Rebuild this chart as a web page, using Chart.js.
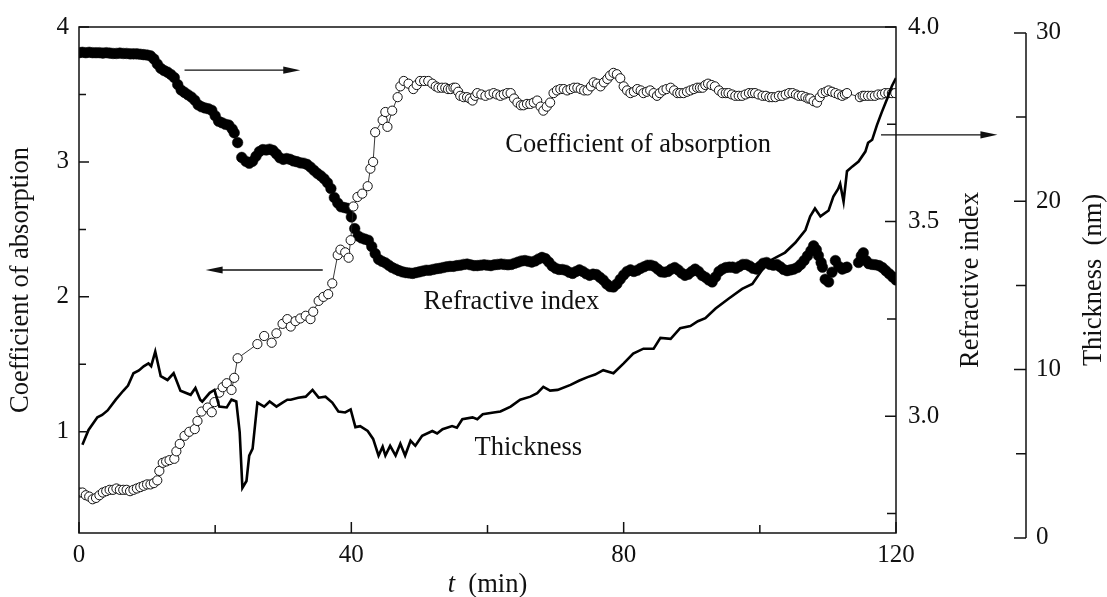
<!DOCTYPE html>
<html><head><meta charset="utf-8">
<script src="https://cdn.jsdelivr.net/npm/chart.js@4.4.1/dist/chart.umd.min.js"></script>
<style>html,body{margin:0;padding:0;background:#fff;}canvas{display:block;}</style>
</head><body>
<canvas id="c" width="1107" height="597"></canvas>
<script>
// ---- data (t in min) ----
const absT = [
 0,0.5,1,1.5,2,2.5,3,3.5,4,4.5,
 5,5.5,6,6.5,7,7.5,8,8.5,9,9.5,
 10,10.5,11,11.5,11.8,12.3,12.8,13.3,14,14.3,
 14.8,15.5,16.2,17,17.4,18,18.9,19.5,19.9,20.6,
 21.1,21.7,22.4,22.8,23.3,26.2,27.2,28.3,29,29.9,
 30.6,31.1,31.8,32.5,33.3,34,34.4,35.2,35.9,36.6,
 37.2,38,38.4,39.1,39.6,39.9,40.3,40.9,41.6,42.4,
 42.8,43.2,43.5,44.6,45,45.3,46,46.8,47.2,47.7,
 48.4,49.1,49.6,50.1,50.7,51.3,51.9,52.4,52.8,53.3,
 53.8,54.2,54.6,55,55.3,55.7,56,56.5,57,57.4,
 57.8,58.2,58.5,59.1,59.7,60.3,60.9,61.4,61.9,62.4,
 62.9,63.4,63.9,64.4,64.9,65.3,65.8,66.3,66.8,67.3,
 67.8,68.2,68.7,69.2,69.7,70.2,70.7,71.2,71.7,72.2,
 72.7,73.2,73.7,74.2,74.7,75.2,75.6,76.1,76.6,77.1,
 77.6,78,78.5,79,79.5,80,80.5,81,81.5,82,
 82.5,82.9,83.4,83.9,84.4,84.9,85.3,85.8,86.3,86.9,
 87.4,87.9,88.3,88.8,89.3,89.8,90.3,90.8,91.2,91.6,
 92,92.4,92.9,93.4,94,94.5,95,95.4,95.9,96.4,
 96.9,97.4,97.9,98.4,98.9,99.3,99.8,100.4,100.9,101.4,
 101.8,102.3,102.8,103.3,103.8,104.3,104.8,105.3,105.7,106.2,
 106.7,107.1,107.4,107.9,108.4,108.8,109.2,109.7,110.1,110.6,
 111.1,111.6,112.1,112.5,112.8,114.7,115.1,115.4,115.9,116.4,
 116.9,117.4,117.9,118.4,118.9,119.4,119.9
];
const absV = [
 0.55,0.55,0.53,0.52,0.50,0.51,0.53,0.55,0.56,0.57,
 0.57,0.58,0.57,0.57,0.57,0.56,0.57,0.58,0.59,0.60,
 0.61,0.61,0.62,0.64,0.71,0.77,0.78,0.79,0.80,0.855,
 0.91,0.97,1.00,1.02,1.08,1.15,1.18,1.145,1.22,1.29,
 1.33,1.36,1.31,1.40,1.545,1.65,1.71,1.66,1.73,1.80,
 1.835,1.78,1.82,1.84,1.86,1.835,1.89,1.97,2.00,2.02,
 2.10,2.31,2.35,2.33,2.29,2.42,2.67,2.74,2.765,2.82,
 2.95,3.00,3.22,3.31,3.37,3.26,3.38,3.48,3.56,3.60,
 3.58,3.54,3.57,3.60,3.60,3.60,3.58,3.56,3.55,3.55,
 3.55,3.54,3.54,3.55,3.55,3.52,3.49,3.48,3.48,3.47,
 3.455,3.49,3.51,3.50,3.49,3.50,3.51,3.50,3.49,3.50,
 3.51,3.51,3.47,3.44,3.42,3.42,3.43,3.43,3.44,3.455,
 3.41,3.38,3.41,3.44,3.51,3.53,3.54,3.54,3.53,3.54,
 3.55,3.55,3.54,3.53,3.53,3.56,3.59,3.58,3.56,3.59,
 3.615,3.64,3.66,3.65,3.62,3.56,3.53,3.51,3.52,3.54,
 3.53,3.51,3.52,3.53,3.51,3.49,3.51,3.53,3.54,3.55,
 3.53,3.51,3.51,3.51,3.52,3.53,3.54,3.55,3.55,3.55,
 3.57,3.58,3.57,3.56,3.53,3.51,3.51,3.51,3.50,3.49,
 3.49,3.49,3.50,3.51,3.51,3.51,3.50,3.49,3.49,3.48,
 3.48,3.48,3.49,3.49,3.50,3.51,3.51,3.50,3.49,3.49,
 3.48,3.47,3.47,3.45,3.44,3.48,3.51,3.52,3.53,3.52,
 3.51,3.50,3.49,3.50,3.51,3.48,3.49,3.49,3.49,3.49,
 3.49,3.50,3.50,3.51,3.51,3.51,3.51
];
const refT = [
 0,0.5,1,1.5,2,2.5,3,3.5,4,4.5,
 5,5.5,6,6.5,7,7.5,8,8.5,9,9.5,
 10,10.5,11,11.5,12,12.5,13,13.5,14,14.5,
 15,15.5,16,16.5,17,17.5,18,18.5,19,19.5,
 20,20.5,21,21.5,22,22.5,22.8,23.3,23.9,24.5,
 25,25.5,26,26.5,27,27.5,28,28.5,29,29.5,
 30,30.5,31,31.5,32,32.5,33,33.5,34,34.5,
 35,35.5,36,36.5,37,37.5,38,38.5,39,39.5,
 40,40.5,41,41.5,42,42.5,43,43.5,44,44.5,
 45,45.5,46,46.5,47,47.5,48,48.5,49,49.5,
 50,50.5,51,51.5,52,52.5,53,53.5,54,54.5,
 55,55.5,56,56.5,57,57.5,58,58.5,59,59.5,
 60,60.5,61,61.5,62,62.5,63,63.5,64,64.5,
 65,65.5,66,66.5,67,67.5,68,68.5,69,69.5,
 70,70.5,71,71.5,72,72.5,73,73.5,74,74.5,
 75,75.5,76,76.5,77,77.5,78,78.5,79,79.5,
 80,80.5,81,81.5,82,82.5,83,83.5,84,84.5,
 85,85.5,86,86.5,87,87.5,88,88.5,89,89.5,
 90,90.5,91,91.5,92,92.5,93,93.5,94,94.5,
 95,95.5,96,96.5,97,97.5,98,98.5,99,99.5,
 100,100.5,101,101.5,102,102.5,103,103.5,104,104.5,
 105,105.5,106,106.5,107,107.5,107.9,108.3,108.6,109,
 109.2,109.6,110.1,110.6,111.1,111.6,112.1,112.5,112.8,114.5,
 114.9,115.2,115.6,116,116.5,117,117.5,118,118.5,119,
 119.5,120
];
const refV = [
 3.934,3.935,3.934,3.935,3.934,3.934,3.934,3.933,3.934,3.933,
 3.932,3.932,3.933,3.932,3.932,3.931,3.931,3.931,3.930,3.929,
 3.928,3.926,3.918,3.905,3.894,3.888,3.884,3.878,3.870,3.852,
 3.838,3.832,3.826,3.820,3.812,3.800,3.795,3.792,3.790,3.786,
 3.772,3.758,3.754,3.750,3.748,3.738,3.728,3.703,3.665,3.655,
 3.650,3.655,3.668,3.680,3.685,3.684,3.686,3.683,3.674,3.664,
 3.660,3.662,3.660,3.656,3.654,3.651,3.650,3.647,3.640,3.632,
 3.624,3.618,3.610,3.600,3.585,3.562,3.548,3.538,3.536,3.534,
 3.512,3.482,3.463,3.458,3.455,3.452,3.436,3.418,3.403,3.398,
 3.394,3.388,3.382,3.378,3.374,3.371,3.369,3.368,3.367,3.369,
 3.371,3.373,3.375,3.375,3.377,3.379,3.380,3.382,3.384,3.385,
 3.385,3.387,3.388,3.390,3.391,3.389,3.387,3.387,3.388,3.389,
 3.388,3.387,3.389,3.390,3.391,3.390,3.389,3.390,3.393,3.396,
 3.399,3.400,3.398,3.396,3.399,3.404,3.408,3.405,3.396,3.386,
 3.380,3.377,3.377,3.375,3.370,3.367,3.372,3.376,3.372,3.366,
 3.362,3.365,3.364,3.357,3.350,3.340,3.333,3.332,3.340,3.352,
 3.363,3.372,3.376,3.372,3.375,3.380,3.384,3.388,3.388,3.385,
 3.378,3.371,3.370,3.372,3.378,3.382,3.376,3.368,3.362,3.365,
 3.372,3.378,3.372,3.362,3.357,3.350,3.345,3.358,3.372,3.378,
 3.382,3.383,3.383,3.380,3.385,3.390,3.390,3.386,3.380,3.378,
 3.385,3.393,3.395,3.390,3.388,3.390,3.384,3.377,3.374,3.376,
 3.378,3.382,3.390,3.400,3.412,3.425,3.438,3.428,3.413,3.395,
 3.383,3.352,3.345,3.370,3.400,3.385,3.378,3.381,3.383,3.395,
 3.412,3.420,3.400,3.392,3.390,3.389,3.387,3.382,3.374,3.366,
 3.358,3.350
];
const thkT = [
 0.5,1.4,2.7,3.4,4.2,5.4,6.5,7.2,8.0,8.8,
 9.5,10.2,10.6,11.2,12.0,13.0,13.9,14.9,16.4,17.1,
 17.8,18.1,19.2,19.9,20.6,21.7,22.4,23.1,23.6,24.0,
 24.6,25.0,25.5,26.2,27.2,28.0,29.0,29.9,30.6,31.1,
 32.2,33.3,34.3,35.2,36.2,37.2,38.1,39.1,39.9,40.6,
 41.3,42.4,43.2,44.0,44.6,45.0,45.7,46.5,47.2,47.9,
 48.7,49.4,50.4,51.9,52.6,53.4,54.8,55.5,56.3,57.8,
 58.5,59.3,60.9,61.9,63.4,64.8,66.3,67.3,68.2,69.2,
 70.3,72.2,73.5,74.7,75.8,77.0,78.5,80.0,81.4,82.9,
 84.4,85.4,86.9,88.3,89.8,90.9,92.0,93.5,95.4,97.4,
 98.9,100.4,101.8,103.7,105.2,106.7,107.4,108.1,108.9,110.1,
 110.8,111.5,111.8,112.3,112.8,113.6,114.5,115.5,115.9,116.5,
 117.2,117.9,118.7,119.4,120.0
];
const thkV = [
 5.53,6.41,7.16,7.30,7.57,8.21,8.74,9.05,9.78,9.95,
 10.19,10.37,10.20,11.07,9.61,9.38,9.78,8.74,8.50,8.91,
 8.21,8.10,8.62,8.79,7.80,7.75,8.21,8.10,6.29,2.97,
 3.38,4.89,5.30,8.04,7.80,8.10,7.80,8.04,8.21,8.21,
 8.33,8.39,8.79,8.33,8.39,8.04,7.51,7.45,7.63,6.58,
 6.64,6.35,5.88,4.89,5.42,4.89,5.47,4.89,5.59,4.89,
 5.77,5.47,6.06,6.35,6.20,6.46,6.64,6.55,7.05,7.16,
 7.05,7.34,7.45,7.51,7.80,8.21,8.39,8.60,8.97,8.75,
 8.79,9.09,9.35,9.55,9.70,9.96,9.78,10.37,10.95,11.24,
 11.24,11.88,11.82,12.46,12.58,12.87,13.05,13.63,14.21,14.79,
 15.08,15.96,16.54,16.95,17.53,18.29,19.10,19.57,19.10,19.45,
 20.27,20.73,21.03,19.98,21.78,22.07,22.36,22.95,23.47,23.65,
 24.52,25.28,26.09,26.85,27.32
];
// ---- ticks ----
const xTicks = [0,20,40,60,80,100,120];
const xLabels = [0,40,80,120];
const absTicks = [1,1.5,2,2.5,3,3.5,4];
const absLabels = [1,2,3,4];
const refTicks = [2.75,3,3.25,3.5,3.75,4];
const refLabels = [3,3.5,4];
const thkTicks = [0,5,10,15,20,25,30];
const thkLabels = [0,10,20,30];

const FONT = "'Liberation Serif','Times New Roman',serif";
const INK = '#111';
function pairs(ts, vs){ return ts.map((t,i)=>({x:t, y:vs[i]})); }

function arrow(ctx, x1, y1, x2, y2){
  const ang = Math.atan2(y2-y1, x2-x1), L = 17, W = 3.6;
  ctx.beginPath(); ctx.moveTo(x1,y1);
  ctx.lineTo(x2 - Math.cos(ang)*L*0.8, y2 - Math.sin(ang)*L*0.8); ctx.stroke();
  ctx.beginPath(); ctx.moveTo(x2,y2);
  ctx.lineTo(x2 - Math.cos(ang)*L - Math.sin(ang)*W, y2 - Math.sin(ang)*L + Math.cos(ang)*W);
  ctx.lineTo(x2 - Math.cos(ang)*L + Math.sin(ang)*W, y2 - Math.sin(ang)*L - Math.cos(ang)*W);
  ctx.closePath(); ctx.fill();
}

const decor = {
  id: 'decor',
  afterDraw(chart){
    const {ctx, chartArea:a, scales:s} = chart;
    const X = v => s.x.getPixelForValue(v), YA = v => s.yA.getPixelForValue(v);
    ctx.save();
    ctx.strokeStyle = INK; ctx.fillStyle = INK; ctx.lineWidth = 1.5;
    ctx.strokeRect(a.left, a.top, a.right - a.left, a.bottom - a.top);
    ctx.beginPath();
    xTicks.forEach(v => { const p = X(v), L = xLabels.includes(v) ? 11 : 8; ctx.moveTo(p, a.bottom); ctx.lineTo(p, a.bottom - L); });
    absTicks.forEach(v => { const p = YA(v), L = absLabels.includes(v) ? 10 : 7; ctx.moveTo(a.left, p); ctx.lineTo(a.left + L, p); });
    refTicks.forEach(v => { const p = s.yR.getPixelForValue(v), L = refLabels.includes(v) ? 11 : 9; ctx.moveTo(a.right, p); ctx.lineTo(a.right - L, p); });
    const tx = s.yT.left;
    ctx.moveTo(tx, s.yT.getPixelForValue(thkTicks[0])); ctx.lineTo(tx, s.yT.getPixelForValue(thkTicks[thkTicks.length-1]));
    thkTicks.forEach(v => { const p = s.yT.getPixelForValue(v), L = thkLabels.includes(v) ? 12 : 10; ctx.moveTo(tx, p); ctx.lineTo(tx - L, p); });
    ctx.stroke();
    // thickness tick labels
    ctx.font = `25px ${FONT}`; ctx.textAlign = 'left'; ctx.textBaseline = 'middle';
    thkLabels.forEach(v => ctx.fillText(String(v), tx + 10, s.yT.getPixelForValue(v)));
    // axis titles
    ctx.font = `26.5px ${FONT}`; ctx.textAlign = 'center';
    const cy = (a.top + a.bottom) / 2;
    [[21, 'Coefficient of absorption'], [s.yR.left + 75, 'Refractive index'], [tx + 68, 'Thickness  (nm)']].forEach(([x, txt]) => {
      ctx.save(); ctx.translate(x, cy); ctx.rotate(-Math.PI/2); ctx.fillText(txt, 0, 0); ctx.restore();
    });
    // x title
    ctx.textBaseline = 'alphabetic'; ctx.textAlign = 'left';
    ctx.font = `italic 26.5px ${FONT}`; const wT = ctx.measureText('t').width;
    ctx.font = `26.5px ${FONT}`; const wS = ctx.measureText('  ').width, wM = ctx.measureText('(min)').width;
    let x0 = X(60) - (wT + wS + wM) / 2;
    ctx.font = `italic 26.5px ${FONT}`; ctx.fillText('t', x0, 592);
    ctx.font = `26.5px ${FONT}`; ctx.fillText('(min)', x0 + wT + wS, 592);
    // annotations
    ctx.fillText('Coefficient of absorption', X(62.6), YA(3.077));
    ctx.fillText('Refractive index', X(50.6), YA(1.908));
    ctx.fillText('Thickness', X(58.1), YA(0.826));
    ctx.lineWidth = 1.3;
    arrow(ctx, X(15.5), YA(3.68), X(32.5), YA(3.68));
    arrow(ctx, X(35.8), YA(2.199), X(18.6), YA(2.199));
    arrow(ctx, X(117.8), YA(3.201), X(134.9), YA(3.201));
    ctx.restore();
  }
};

const tickFont = {family: FONT, size: 25};
new Chart(document.getElementById('c'), {
  type: 'line',
  data: { datasets: [
    { label: 'Thickness', data: pairs(thkT, thkV), yAxisID: 'yT', borderColor: '#000', borderWidth: 2.6,
      pointRadius: 0, tension: 0, order: 0 },
    { label: 'Coefficient of absorption', data: pairs(absT, absV), yAxisID: 'yA', borderColor: '#222', borderWidth: 0.9,
      pointRadius: 4.6, pointBackgroundColor: '#fff', pointBorderColor: '#111', pointBorderWidth: 1, tension: 0, order: 1 },
    { label: 'Refractive index', data: pairs(refT, refV), yAxisID: 'yR', showLine: false,
      pointRadius: 5.3, pointBackgroundColor: '#000', pointBorderColor: '#000', pointBorderWidth: 0.5, order: 2 }
  ]},
  options: {
    responsive: false, animation: false, devicePixelRatio: 1,
    layout: { padding: { top: 17, left: 0, right: 0, bottom: 0 } },
    plugins: { legend: { display: false }, tooltip: { enabled: false } },
    scales: {
      x: { type: 'linear', position: 'bottom', min: 0, max: 120,
        grid: { display: false, drawTicks: false }, border: { display: false },
        afterBuildTicks: sc => { sc.ticks = xTicks.map(v => ({value: v})); },
        afterFit: sc => { sc.height = 64; },
        ticks: { autoSkip: false, maxRotation: 0, padding: 7, color: INK, font: tickFont,
          callback: v => xLabels.includes(v) ? String(v) : '' } },
      yA: { type: 'linear', position: 'left', min: 0.25, max: 4,
        grid: { display: false, drawTicks: false }, border: { display: false },
        afterBuildTicks: sc => { sc.ticks = absTicks.map(v => ({value: v})); },
        afterFit: sc => { sc.width = 79; },
        ticks: { autoSkip: false, padding: 10, color: INK, font: tickFont,
          callback: v => absLabels.includes(v) ? String(v) : '' } },
      yR: { type: 'linear', position: 'right', min: 2.7, max: 4.0, weight: 1,
        grid: { display: false, drawTicks: false }, border: { display: false },
        afterBuildTicks: sc => { sc.ticks = refTicks.map(v => ({value: v})); },
        afterFit: sc => { sc.width = 130; },
        ticks: { autoSkip: false, padding: 12, color: INK, font: tickFont,
          callback: v => refLabels.includes(v) ? v.toFixed(1) : '' } },
      yT: { type: 'linear', position: 'right', min: 0.29, max: 30.35, weight: 2,
        grid: { display: false, drawTicks: false }, border: { display: false },
        afterFit: sc => { sc.width = 81; },
        ticks: { display: false } }
    }
  },
  plugins: [decor]
});
</script>
</body></html>
